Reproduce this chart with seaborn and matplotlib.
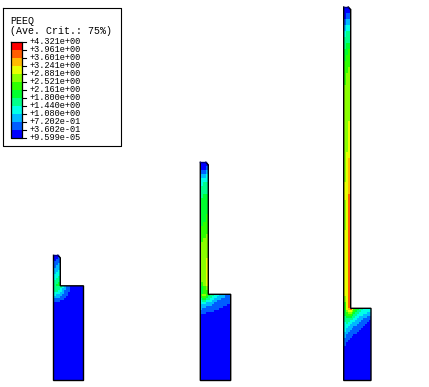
import numpy as np
import matplotlib
matplotlib.use("Agg")
import matplotlib.pyplot as plt
from matplotlib.colors import ListedColormap
import seaborn as sns

W, H = 429, 387

level_colors = ["#0000FF", "#005DFF", "#00B9FF", "#00FFE8", "#00FF8B", "#00FF2E",
                "#2EFF00", "#8BFF00", "#E8FF00", "#FFB900", "#FF5D00", "#FF0000"]
tick_labels = ["+4.321e+00", "+3.961e+00", "+3.601e+00", "+3.241e+00", "+2.881e+00",
               "+2.521e+00", "+2.161e+00", "+1.800e+00", "+1.440e+00", "+1.080e+00",
               "+7.202e-01", "+3.602e-01", "+9.599e-05"]
title_lines = ["PEEQ", "(Ave. Crit.: 75%)"]

# Contour level per cell (hex digit = band index)
stem_a = ["000", "001", "011", "111", "112", "122", "222", "223", "233", "333",
          "334", "344", "444", "445", "455"]
block_a = ["444432110000000", "444322110000000", "443321110000000", "333221100000000",
           "322211100000000", "222111000000000", "111110000000000", "111000000000000"]
stem_b = ["000", "001", "112", "223", "333", "344", "444", "444", "455", "555", "555",
          "555", "555", "556", "556", "566", "666", "666", "667", "677", "777", "777",
          "777", "777", "778", "778", "778", "778", "778", "778", "678", "567", "566"]
block_b = ["6776544333222111", "5665443332222111", "4554433222211111", "3443332221111111",
           "3332222111111111", "2222221111111100", "2221111111110000", "2111111111000000",
           "1111111000000000", "1110000000000000"]
stem_c = ["000", "011", "122", "233", "344", "444", "455", "556", "566", "666", "667",
          "677", "677", "777", "777", "777", "777", "777", "777", "778", "778", "778",
          "778", "778", "788", "789", "789", "789", "789", "889", "889", "88A", "78A",
          "78A", "78A", "78A", "78A", "88A", "88A", "88A", "88A", "88A", "88A", "88A",
          "88A", "88A", "88A", "88A", "78A", "68A"]
block_c = ["689A8655443333", "57887654433333", "56776544333322", "56665443332222",
           "45554433222211", "44444332221111", "44433322211110", "34332222111100",
           "33322221111000", "33222111110000", "32221111100000", "32211111000000",
           "22111110000000", "21111000000000", "21110000000000", "11100000000000",
           "11000000000000", "10000000000000", "10000000000000"]
block_rows = [47, 43, 36]

# Specimen outlines, pixels
x_left = [53.5, 200.3, 343.7]
x_stem = [60.3, 208.3, 350.7]
x_right = [83.5, 230.7, 371.0]
y_top = [255.3, 162.3, 7.0]
y_joint = [285.8, 294.3, 308.3]
y_bottom = [380.5, 380.5, 380.5]
chamfer = 2.5

cmap = ListedColormap(level_colors)
fig = plt.figure(figsize=(W / 100, H / 100), dpi=100, facecolor="white")


def px_axes(x0, y0, x1, y1, z=1):
    return fig.add_axes([x0 / W, 1 - y1 / H, (x1 - x0) / W, (y1 - y0) / H], zorder=z)


def to_matrix(rows, total=None):
    m = np.array([[int(c, 16) for c in r] for r in rows])
    if total and total > len(m):
        m = np.vstack([m, np.zeros((total - len(m), m.shape[1]), dtype=int)])
    return m


def field(ax, matrix):
    sns.heatmap(matrix, ax=ax, cmap=cmap, vmin=-0.5, vmax=11.5, cbar=False,
                xticklabels=False, yticklabels=False, linewidths=0)
    ax.axis("off")


stems = [stem_a, stem_b, stem_c]
blocks = [block_a, block_b, block_c]
for i in range(3):
    field(px_axes(x_left[i], y_top[i], x_stem[i], y_joint[i]), to_matrix(stems[i]))
    field(px_axes(x_left[i], y_joint[i], x_right[i], y_bottom[i]),
          to_matrix(blocks[i], block_rows[i]))

# Legend colour bar
field(px_axes(10.5, 41.7, 22, 137.7, z=3), to_matrix([format(k, "X") for k in range(11, -1, -1)]))

over = fig.add_axes([0, 0, 1, 1], zorder=5, facecolor="none")
over.set_xlim(0, W)
over.set_ylim(H, 0)
over.axis("off")

for i in range(3):
    xs = [x_stem[i] - chamfer, x_stem[i], x_stem[i], x_right[i],
          x_right[i], x_left[i], x_left[i]]
    ys = [y_top[i], y_top[i] + chamfer, y_joint[i], y_joint[i],
          y_bottom[i], y_bottom[i], y_top[i]]
    over.fill([x_stem[i] - chamfer, x_stem[i] + 0.5, x_stem[i] + 0.5],
              [y_top[i] - 0.5, y_top[i] - 0.5, y_top[i] + chamfer], color="white", lw=0)
    over.plot(xs, ys, color="black", lw=1.0, solid_joinstyle="miter")
    over.plot([x_left[i], x_stem[i] - chamfer], [y_top[i], y_top[i]], color="#000080", lw=1.0)

# Legend frame, bar outline, ticks, text
over.plot([2.5, 120.5, 120.5, 2.5, 2.5], [7.5, 7.5, 145.5, 145.5, 7.5], color="black", lw=0.8)
over.plot([10.5, 22, 22, 10.5, 10.5], [41.7, 41.7, 137.7, 137.7, 41.7], color="black", lw=0.9)
mono = "Liberation Mono"
size = 6.2
for k, label in enumerate(tick_labels):
    y = 41.7 + 8 * k
    over.plot([22, 26], [y, y], color="black", lw=0.8)
    over.text(30, y - 0.6, label, family=mono, fontsize=size, va="center", ha="left", color="black")
over.text(10, 20.5, title_lines[0], family=mono, fontsize=7.2, va="center", ha="left", color="black")
over.text(10, 31, title_lines[1], family=mono, fontsize=7.2, va="center", ha="left", color="black")

fig.savefig("out.png", dpi=100, facecolor="white")
